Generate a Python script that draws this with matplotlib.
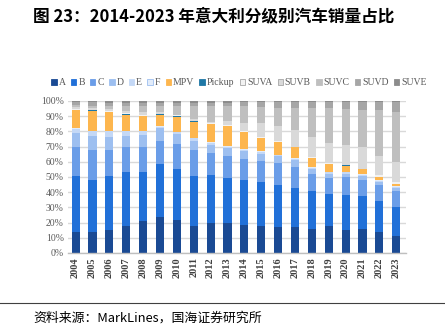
import matplotlib
matplotlib.use("Agg")
import matplotlib.pyplot as plt
import numpy as np
from matplotlib.patches import Patch

years = [str(y) for y in range(2004, 2024)]
categories = ["A", "B", "C", "D", "E", "F", "MPV", "Pickup",
              "SUVA", "SUVB", "SUVC", "SUVD", "SUVE"]

A = [13.5, 14, 15, 18, 21, 23.5, 22, 18, 20, 19.5, 18.5, 18, 17, 17, 16, 17.5, 15, 16, 14, 11.5]
B = [37, 34, 35.5, 35, 32.5, 35, 33, 32.5, 31, 30, 29.5, 29, 27.5, 25.5, 24.5, 21.5, 23, 21.5, 20, 19]
C = [19, 20, 17.5, 16.5, 16, 15.5, 16.5, 17, 15, 14.5, 14, 13.5, 14.5, 14, 11.5, 10.5, 12, 10.5, 10.5, 10.5]
D = [9.5, 9, 8.5, 7.5, 8, 8, 6.5, 6, 5, 5, 5, 4.5, 5, 4.5, 3, 2.5, 2, 2.5, 2.5, 2]
E = [2.5, 3, 3.5, 3, 2.5, 1, 1.5, 2, 1.5, 1, 1, 1.5, 0.5, 1, 1, 1, 1, 1, 0.5, 0.5]
F = [0.5, 0.5, 0.5, 0.5, 0.5, 0.3, 0.3, 0.3, 0.3, 0.3, 0.3, 0.3, 0.3, 0.3, 0.3, 0.3, 0.3, 0.3, 0.3, 0.3]
MPV = [12, 13, 12, 10.5, 9.5, 7.7, 10, 10.7, 12.2, 13.2, 11.2, 8.7, 8.2, 7.2, 6.2, 5.2, 4.2, 3.2, 2.2, 1.7]
Pickup = [0.3, 0.3, 0.5, 0.6, 0.4, 0.2, 0.2, 0.1, 0.1, 0.1, 0.1, 0.1, 0.1, 0.1, 0.1, 0.1, 0.1, 0.1, 0.1, 0.1]
SUVA = [0.5, 0.5, 0.5, 0.4, 0.6, 0.3, 0.5, 0.4, 0.3, 0.4, 0.4, 0.4, 0.4, 0.4, 0.4, 0.4, 0.4, 0.4, 0.9, 1.4]
SUVB = [1.2, 1.2, 1.5, 1.5, 1.5, 1, 0.5, 1, 1.1, 3, 5.5, 9.5, 10, 11, 13, 13.5, 13, 14, 13, 13]
SUVC = [1.5, 1.5, 2, 3, 4, 4, 5.5, 8.5, 10, 9.5, 11, 10.5, 12, 14.5, 19.5, 23, 24, 24.5, 30, 32.5]
SUVD = [1.8, 2.2, 2, 2.5, 2.5, 2.5, 2.5, 2.5, 2.5, 2.5, 2.8, 3.3, 3.8, 3.8, 3.8, 3.8, 4.3, 5.3, 5.3, 6.8]
SUVE = [0.7, 0.8, 1, 1, 1, 1, 1, 1, 1, 1, 0.7, 0.7, 0.7, 0.7, 0.7, 0.7, 0.7, 0.7, 0.7, 0.7]

series = [A, B, C, D, E, F, MPV, Pickup, SUVA, SUVB, SUVC, SUVD, SUVE]
colors = ["#1A4A94", "#2170D8", "#6A9DE8", "#9DBFF0", "#C4D8F6", "#E2ECFA",
          "#FDB64E", "#1F78A6", "#F2F2F2", "#D9D9D9", "#BFBFBF", "#A6A6A6", "#8C8C8C"]
edges = [None, None, None, None, None, "#9DBFF0", None, None, "#A6A6A6", "#A6A6A6",
         None, None, None]

plt.rcParams['font.family'] = ['Noto Sans CJK SC', 'DejaVu Sans']

fig = plt.figure(figsize=(4.45, 3.3), dpi=100)
ax = fig.add_axes([68/445, 1 - 253/330, (405.5 - 68)/445, (253 - 101)/330])

x = np.arange(len(years))
bottom = np.zeros(len(years))
for name, vals, col in zip(categories, series, colors):
    v = np.array(vals, dtype=float)
    ax.bar(x, v, bottom=bottom, width=0.48, color=col, linewidth=0, label=name, zorder=3)
    bottom += v

ax.set_xlim(-0.45, 19.55)
ax.set_ylim(0, 100)
ax.set_yticks(np.arange(0, 101, 10))
ax.set_yticklabels([f"{v}%" for v in range(0, 101, 10)],
                   family="Liberation Serif", fontsize=7, color="#595959")
ax.set_xticks(x)
ax.set_xticklabels(years, rotation=90, family="Liberation Serif",
                   fontsize=7.5, fontweight="bold", color="#404040")
ax.tick_params(axis="both", length=0, pad=3)
ax.grid(axis="y", color="#D9D9D9", linewidth=1, zorder=0)
for s in ["top", "right", "left"]:
    ax.spines[s].set_visible(False)
ax.spines["bottom"].set_color("#BFBFBF")
ax.spines["bottom"].set_linewidth(1)
ax.spines["bottom"].set_zorder(4)

handles = []
for name, col, ec in zip(categories, colors, edges):
    handles.append(Patch(facecolor=col, edgecolor=ec if ec else col, linewidth=0.6, label=name))
leg = fig.legend(handles=handles, loc="center", bbox_to_anchor=(239/445, 1 - 83/330),
                 ncol=13, frameon=False, handlelength=0.55, handleheight=0.55,
                 handletextpad=0.2, columnspacing=0.55,
                 prop={"family": "Liberation Serif", "size": 7})
for t in leg.get_texts():
    t.set_color("#595959")

fig.text(33/445, 1 - 16/330, "图 23：2014-2023 年意大利分级别汽车销量占比",
         fontsize=12, fontweight="bold", color="#000000", va="center", ha="left")
fig.add_artist(plt.Line2D([0, 1], [1 - 303/330, 1 - 303/330], transform=fig.transFigure,
                          color="#404040", linewidth=0.8))
fig.text(33/445, 1 - 318/330, "资料来源：MarkLines，国海证券研究所",
         fontsize=9.3, color="#000000", va="center", ha="left")

fig.savefig("out.png", dpi=100)
